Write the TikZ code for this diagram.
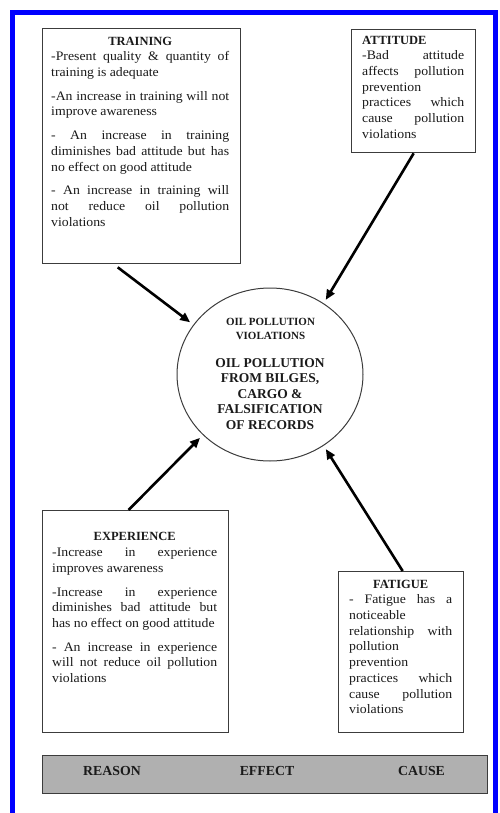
\documentclass[tikz,border=0pt]{standalone}
\usepackage{fontspec}
\setmainfont[FakeStretch=1.06]{Liberation Serif}
\newfontfamily\hdfont{Liberation Serif}
\usetikzlibrary{arrows.meta,calc,shapes.geometric}

\definecolor{ink}{HTML}{1A1A1A}
\definecolor{boxgray}{HTML}{3C3C3C}
\definecolor{bargray}{HTML}{B0B0B0}
\definecolor{framecol}{RGB}{0,0,255}

% centred / left bold heading line and paragraph gap inside the text panels
\newcommand\hdc[1]{\centerline{\hdfont\bfseries\fontsize{12.5}{15.7}\selectfont #1}}
\newcommand\hdl[1]{\leftline{\hdfont\bfseries\fontsize{12.5}{15.7}\selectfont #1}}
\newcommand\pgap{\par\vspace{8pt}}

\tikzset{
  panel/.style={draw=boxgray, line width=1.3pt, fill=white, anchor=north west, inner sep=0pt},
  body/.style={anchor=north west, inner sep=0pt, text=ink, align=justify,
    font=\fontsize{13}{15.7}\selectfont,
    execute at begin node={\parindent=0pt\hyphenpenalty=10000\hbadness=10000\hfuzz=3pt
      \spaceskip=3.3pt plus 8pt minus 1.6pt}},
  arr/.style={draw=black, line width=2.6pt, -{Triangle[length=10pt,width=8.5pt]}},
  caption/.style={font=\hdfont\bfseries\fontsize{13.8}{16}\selectfont, text=ink, inner sep=0pt},
}

\begin{document}
\begin{tikzpicture}[x=1pt,y=-1pt]
\useasboundingbox (0,0) rectangle (500,813);

% blue frame, open at the bottom
\draw[framecol, line width=5pt, line join=miter] (12.5,813) -- (12.5,12.5) -- (495,12.5) -- (495,813);

% panels
\node[panel, minimum width=198pt, minimum height=235pt] (train) at (42,28) {};
\node[panel, minimum width=124pt, minimum height=123pt] (attit) at (351,29) {};
\node[panel, minimum width=186pt, minimum height=222pt] (exper) at (42,510) {};
\node[panel, minimum width=125pt, minimum height=161pt] (fatig) at (338,571) {};

% panel texts
\node[body, text width=178pt] (train-txt) at (51,36.7) {%
\hdc{TRAINING}
-Present quality \& quantity of\linebreak training is adequate\pgap
-An increase in training will not\linebreak improve awareness\pgap
- An increase in training\linebreak diminishes bad attitude but has\linebreak no effect on good attitude\pgap
- An increase in training will\linebreak not reduce oil pollution\linebreak violations};

\node[body, text width=102pt] (attit-txt) at (362,35.7) {%
\hdl{ATTITUDE}
-Bad attitude\linebreak affects pollution\linebreak prevention\linebreak practices which\linebreak cause pollution\linebreak violations};

\node[body, text width=165pt] (exper-txt) at (52,532.5) {%
\hdc{EXPERIENCE}
-Increase in experience\linebreak improves awareness\pgap
-Increase in experience\linebreak diminishes bad attitude but\linebreak has no effect on good attitude\pgap
- An increase in experience\linebreak will not reduce oil pollution\linebreak violations};

\node[body, text width=103pt] (fatig-txt) at (349,579.7) {%
\hdc{FATIGUE}
- Fatigue has a\linebreak noticeable\linebreak relationship with\linebreak pollution\linebreak prevention\linebreak practices which\linebreak cause pollution\linebreak violations};

% central effect
\node[ellipse, draw=boxgray, line width=1pt, minimum width=186pt, minimum height=173pt, inner sep=0pt] (circ) at (270,374.5) {};
\node[anchor=north, inner sep=0pt, align=center, text=ink,
      font=\hdfont\bfseries\fontsize{11}{14}\selectfont] (circ-head) at (270.5,317.8)
  {OIL POLLUTION\\VIOLATIONS};
\node[anchor=north, inner sep=0pt, align=center, text=ink,
      font=\hdfont\bfseries\fontsize{13.5}{15.5}\selectfont] (circ-body) at (270,358.1)
  {OIL POLLUTION\\FROM BILGES,\\CARGO \&\\FALSIFICATION\\OF RECORDS};

% connectors
\draw[arr, shorten <=5pt, shorten >=4pt] ($(train.south west)!0.36!(train.south east)$) -- (circ.147.5);
\draw[arr, shorten >=4pt] ($(attit.south west)!0.5!(attit.south east)$) -- (circ.53);
\draw[arr, shorten >=4pt] ($(exper.north west)!0.462!(exper.north east)$) -- (circ.222.6);
\draw[arr, shorten >=4pt] ($(fatig.north west)!0.512!(fatig.north east)$) -- (circ.307.4);

% legend bar
\node[panel, fill=bargray, minimum width=445pt, minimum height=38pt] (bar) at (42,755) {};
\node[caption] (reason) at (112,771) {REASON};
\node[caption] (effect) at (267,771) {EFFECT};
\node[caption] (cause) at (421.5,771) {CAUSE};
\end{tikzpicture}
\end{document}
